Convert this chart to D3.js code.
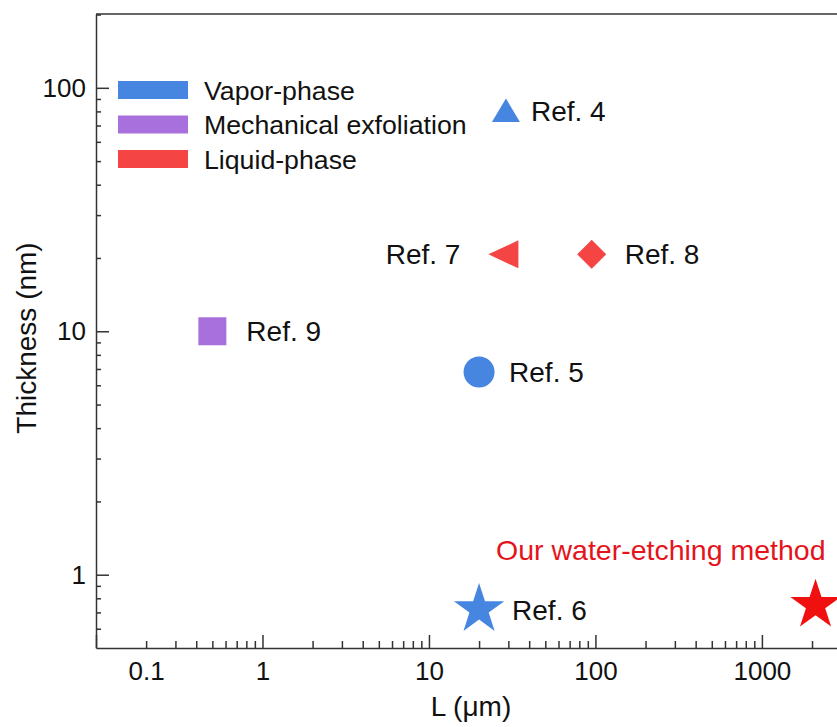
<!DOCTYPE html>
<html>
<head>
<meta charset="utf-8">
<script src="https://cdn.jsdelivr.net/npm/d3@7"></script>
<style>
  body { margin: 0; background: #fff; }
  text { font-family: "Liberation Sans", Arial, sans-serif; }
</style>
</head>
<body>
<div id="chart"></div>
<script>
// data
var refNames   = ["Ref. 4", "Ref. 5", "Ref. 6", "Ref. 7", "Ref. 8", "Ref. 9", "Ours"];
var lengthUm   = [29, 20, 20, 28, 95, 0.5, 2100];
var thickNm    = [80, 6.8, 0.72, 20.7, 20.7, 10, 0.75];
var methods    = ["vapor", "vapor", "vapor", "liquid", "liquid", "mech", "ours"];
var shapes     = ["triUp", "circle", "star", "triLeft", "diamond", "square", "star"];

var legendKeys   = ["vapor", "mech", "liquid"];
var legendLabels = ["Vapor-phase", "Mechanical exfoliation", "Liquid-phase"];
var xTickValues  = [0.1, 1, 10, 100, 1000];
var yTickValues  = [1, 10, 100];

// label offsets from the marker (layout only), negative = text on the left
var labelDx = [25, 30, 33, -43, 33, 34, null];

var colors = {
  vapor: "#4686e0",
  mech: "#a870dc",
  liquid: "#f44444",
  ours: "#f01010"
};

// svg setup
var svgWidth = 837;
var svgHeight = 727;
var margin = { top: 14, left: 96 };
var Width = 750;
var Height = 634;

var svg = d3.select("#chart")
  .append("svg")
  .attr("width", svgWidth)
  .attr("height", svgHeight);

var xScale = d3.scaleLog().domain([0.1, 3200]).range([margin.left, margin.left + Width]);
var yScale = d3.scaleLog().domain([0.5, 201]).range([margin.top + Height, margin.top]);

// minor tick values, 2..9 in every decade
function minorTicks(lo, hi) {
  var out = [];
  for (var e = Math.floor(Math.log10(lo)); e <= Math.ceil(Math.log10(hi)); e++) {
    for (var m = 2; m <= 9; m++) {
      var v = m * Math.pow(10, e);
      if (v > lo && v < hi) out.push(v);
    }
  }
  return out;
}

var axisColor = "#333";

// x axis (ticks point inward)
var xAxis = svg.append("g")
  .attr("transform", `translate(0, ${margin.top + Height})`)
  .call(d3.axisBottom(xScale)
    .tickValues(xTickValues)
    .tickFormat(d => String(d))
    .tickSizeInner(-13)
    .tickSizeOuter(0)
    .tickPadding(14));

svg.append("g")
  .attr("transform", `translate(0, ${margin.top + Height})`)
  .call(d3.axisBottom(xScale)
    .tickValues(minorTicks(0.1, 3200))
    .tickFormat("")
    .tickSizeInner(-7)
    .tickSizeOuter(0))
  .select(".domain").remove();

// the 0.1 label sits to the right of its tick in the original
xAxis.selectAll(".tick text")
  .filter(d => d === 0.1)
  .attr("x", xScale(0.2) - xScale(0.1));

// y axis
var yAxis = svg.append("g")
  .attr("transform", `translate(${margin.left}, 0)`)
  .call(d3.axisLeft(yScale)
    .tickValues(yTickValues)
    .tickFormat(d => String(d))
    .tickSizeInner(-13)
    .tickSizeOuter(0)
    .tickPadding(10));

svg.append("g")
  .attr("transform", `translate(${margin.left}, 0)`)
  .call(d3.axisLeft(yScale)
    .tickValues(minorTicks(0.5, 201))
    .tickFormat("")
    .tickSizeInner(-5)
    .tickSizeOuter(0))
  .select(".domain").remove();

svg.selectAll(".domain, .tick line")
  .attr("stroke", axisColor)
  .attr("stroke-width", 1.5);

svg.selectAll(".tick text")
  .attr("fill", "#111")
  .style("font-size", "26px")
  .style("font-family", "'Liberation Sans', Arial, sans-serif");

// top and right frame
svg.append("line")
  .attr("x1", margin.left).attr("x2", margin.left + Width)
  .attr("y1", margin.top).attr("y2", margin.top)
  .attr("stroke", axisColor).attr("stroke-width", 1.5);
svg.append("line")
  .attr("x1", margin.left + Width).attr("x2", margin.left + Width)
  .attr("y1", margin.top).attr("y2", margin.top + Height)
  .attr("stroke", axisColor).attr("stroke-width", 1.5);

// axis titles
svg.append("text")
  .attr("x", margin.left + Width / 2)
  .attr("y", 716)
  .attr("text-anchor", "middle")
  .style("font-size", "28px")
  .attr("fill", "#111")
  .text("L (\u03bcm)");

svg.append("text")
  .attr("transform", "rotate(-90)")
  .attr("x", -(margin.top + Height / 2) - 7)
  .attr("y", 36)
  .attr("text-anchor", "middle")
  .style("font-size", "28px")
  .attr("fill", "#111")
  .text("Thickness (nm)");

// marker shapes
function shapePath(kind) {
  if (kind === "circle") return d3.symbol(d3.symbolCircle, Math.PI * 15.5 * 15.5)();
  if (kind === "square") return "M-14,-14H14V14H-14Z";
  if (kind === "diamond") return "M0,-14.5L14.5,0L0,14.5L-14.5,0Z";
  if (kind === "triUp") return "M0,-13L14,10.5L-14,10.5Z";
  if (kind === "triLeft") return "M-15,0L15,-14L15,14Z";
  if (kind === "star") {
    var R = 26.5, r = R * 0.382, p = d3.path();
    for (var i = 0; i < 10; i++) {
      var rad = i % 2 === 0 ? R : r;
      var a = -Math.PI / 2 + i * Math.PI / 5;
      if (i === 0) p.moveTo(rad * Math.cos(a), rad * Math.sin(a));
      else p.lineTo(rad * Math.cos(a), rad * Math.sin(a));
    }
    p.closePath();
    return p.toString();
  }
}

var points = refNames.map((n, i) => ({
  name: n, x: lengthUm[i], y: thickNm[i], method: methods[i],
  shape: shapes[i], dx: labelDx[i]
}));

var pointGroup = svg.selectAll(".pt")
  .data(points)
  .enter()
  .append("g")
  .attr("class", "pt")
  .attr("transform", d => `translate(${xScale(d.x)}, ${yScale(d.y)})`);

pointGroup.append("path")
  .attr("d", d => shapePath(d.shape))
  .attr("fill", d => colors[d.method]);

pointGroup.filter(d => d.dx !== null)
  .append("text")
  .attr("x", d => d.dx)
  .attr("dy", "0.36em")
  .attr("text-anchor", d => d.dx < 0 ? "end" : "start")
  .style("font-size", "28px")
  .attr("fill", "#111")
  .text(d => d.name);

// label for our method
var ours = points[points.length - 1];
svg.append("text")
  .attr("x", xScale(ours.x) + 10)
  .attr("y", 560)
  .attr("text-anchor", "end")
  .style("font-size", "28.5px")
  .attr("fill", "#e5141c")
  .text("Our water-etching method");

// legend
var legend = svg.append("g").attr("transform", "translate(118, 90)");
var legendRows = legend.selectAll("g")
  .data(legendKeys)
  .enter()
  .append("g")
  .attr("transform", (d, i) => `translate(0, ${i * 34.5})`);

legendRows.append("rect")
  .attr("x", 0).attr("y", -9)
  .attr("width", 70).attr("height", 18)
  .attr("fill", d => colors[d]);

legendRows.append("text")
  .attr("x", 86)
  .attr("dy", "0.36em")
  .style("font-size", "26.7px")
  .attr("fill", "#111")
  .text((d, i) => legendLabels[i]);
</script>
</body>
</html>
